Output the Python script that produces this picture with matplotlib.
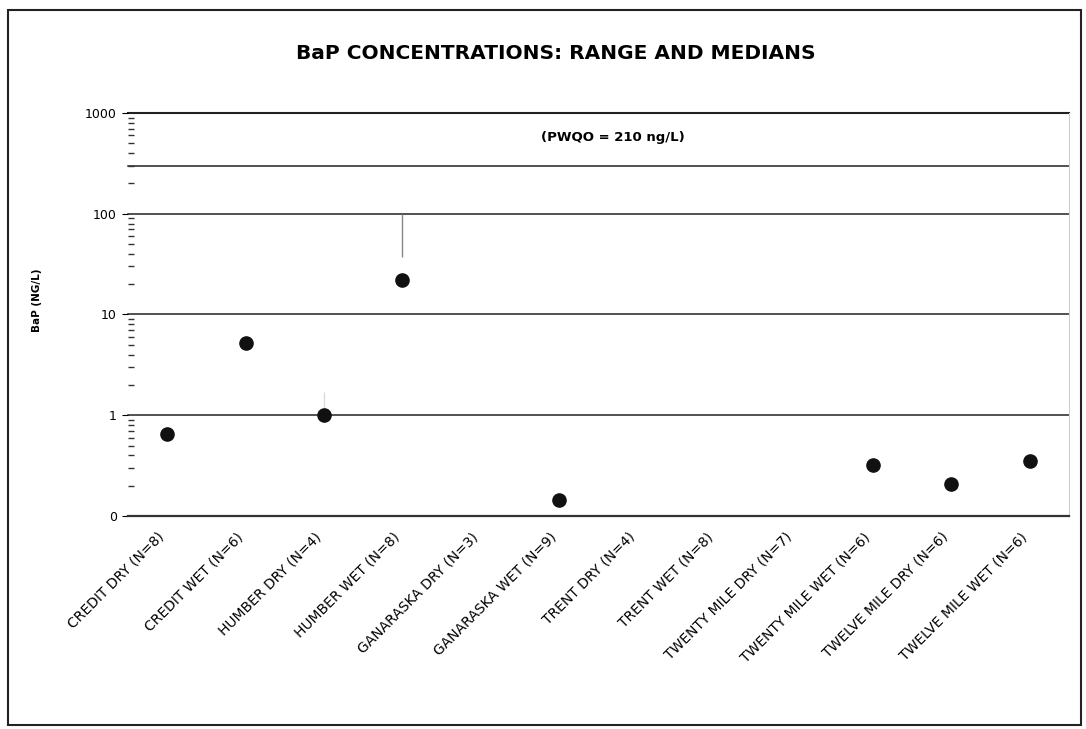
import matplotlib
matplotlib.use("Agg")
import matplotlib.pyplot as plt
from matplotlib.patches import Rectangle
from matplotlib.transforms import ScaledTranslation
from matplotlib.ticker import FixedLocator, FixedFormatter, LogLocator, NullFormatter

plt.rcParams["font.family"] = ["DejaVu Sans"]

sites = ["CREDIT DRY (N=8)", "CREDIT WET (N=6)", "HUMBER DRY (N=4)", "HUMBER WET (N=8)",
         "GANARASKA DRY (N=3)", "GANARASKA WET (N=9)", "TRENT DRY (N=4)", "TRENT WET (N=8)",
         "TWENTY MILE DRY (N=7)", "TWENTY MILE WET (N=6)", "TWELVE MILE DRY (N=6)",
         "TWELVE MILE WET (N=6)"]
# medians (None = no marker visible)
medians = [0.65, 5.2, 1.0, 22, None, 0.145, None, None, None, 0.32, 0.21, 0.35]
# visible range lines (low, high)
range_lo = [None, None, 1.0, 37, None, None, None, None, None, None, None, None]
range_hi = [None, None, 1.7, 100, None, None, None, None, None, None, None, None]

grid_vals = [1, 10, 100, 300, 1000]
ytick_vals = [0.1, 1, 10, 100, 1000]
ytick_text = ["0", "1", "10", "100", "1000"]

fig = plt.figure(figsize=(10.86, 7.29), dpi=100)
ax = fig.add_axes([0.1179, 0.2922, 0.8664, 0.5528])

x = list(range(len(sites)))
for i, (lo, hi) in enumerate(zip(range_lo, range_hi)):
    if lo is not None:
        col = "#888888" if hi >= 50 else "#dddddd"
        ax.vlines(i, lo, hi, color=col, lw=1, zorder=2)

xs = [i for i, m in zip(x, medians) if m is not None]
ys = [m for m in medians if m is not None]
ax.plot(xs, ys, "o", color="#111111", markersize=9.5, zorder=3)

for g in grid_vals:
    lw = 1.5 if g == 1000 else 1.1
    ax.axhline(g, color="#222222", lw=lw, zorder=1, clip_on=False)

ax.set_yscale("log")
ax.set_ylim(0.1, 1000)
ax.set_xlim(-0.5, len(sites) - 0.5)

ax.yaxis.set_major_locator(FixedLocator(ytick_vals))
ax.yaxis.set_major_formatter(FixedFormatter(ytick_text))
ax.yaxis.set_minor_locator(LogLocator(base=10, subs=range(2, 10)))
ax.yaxis.set_minor_formatter(NullFormatter())
ax.tick_params(axis="y", which="major", length=4, direction="out", labelsize=9, pad=4)
ax.tick_params(axis="y", which="minor", length=4, direction="in", width=1, color="#333333")

ax.set_xticks(x)
ax.set_xticklabels(sites, rotation=45, ha="right", rotation_mode="anchor", fontsize=10)
ax.tick_params(axis="x", length=0, pad=10)
shift = ScaledTranslation(-10 / 100, 0, fig.dpi_scale_trans)
for lab in ax.get_xticklabels():
    lab.set_transform(lab.get_transform() + shift)

for s in ["top", "left"]:
    ax.spines[s].set_visible(False)
ax.spines["right"].set_color("#cccccc")
ax.spines["bottom"].set_color("#333333")
ax.spines["bottom"].set_linewidth(1.6)

ax.text(0.515, 0.94, "(PWQO = 210 ng/L)", transform=ax.transAxes, ha="center",
        va="center", fontsize=9.5, fontweight="bold")

fig.text(0.512, 0.927, "BaP CONCENTRATIONS: RANGE AND MEDIANS", ha="center", va="center",
         fontsize=14.5, fontweight="bold")
fig.text(0.034, 0.588, "BaP (NG/L)", rotation=90, ha="center", va="center",
         fontsize=7.5, fontweight="bold")

# outer frame of the scanned page
fig.patches.append(Rectangle((0.007, 0.006), 0.988, 0.98, transform=fig.transFigure,
                             fill=False, edgecolor="#222222", lw=1.5))

fig.savefig("out.png", dpi=100)
